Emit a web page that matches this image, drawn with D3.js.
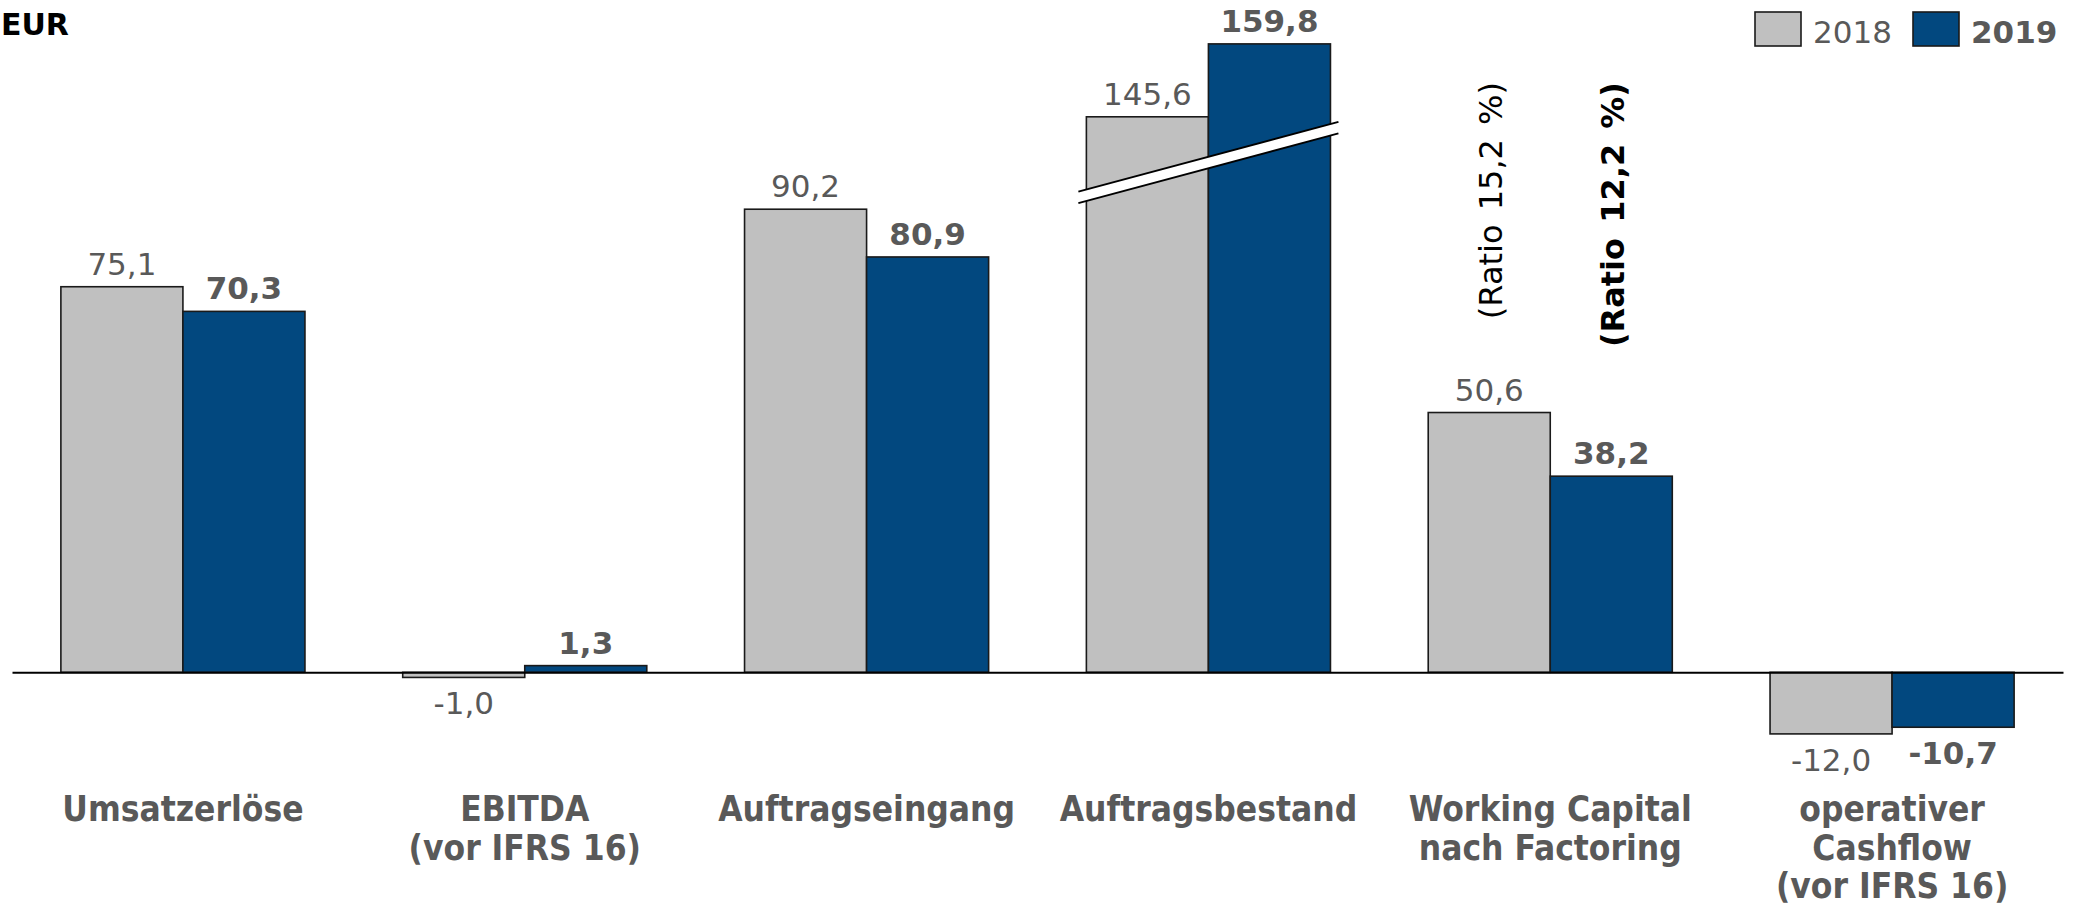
<!DOCTYPE html>
<html>
<head>
<meta charset="utf-8">
<script src="https://cdn.jsdelivr.net/npm/d3@7"></script>
<style>
  html, body { margin: 0; padding: 0; background: #fff; overflow: hidden; }
  svg { display: block; }
</style>
</head>
<body>
<svg width="2077" height="905"></svg>
<script>
// values in Mio. EUR
const categories = ["Umsatzerlöse", "EBITDA|(vor IFRS 16)", "Auftragseingang", "Auftragsbestand",
  "Working Capital|nach Factoring", "operativer|Cashflow|(vor IFRS 16)"];
const years = ["2018", "2019"];
const values2018 = [75.1, -1.0, 90.2, 145.6, 50.6, -12.0];
const values2019 = [70.3, 1.3, 80.9, 159.8, 38.2, -10.7];
const labels2018 = ["75,1", "-1,0", "90,2", "145,6", "50,6", "-12,0"];
const labels2019 = ["70,3", "1,3", "80,9", "159,8", "38,2", "-10,7"];
const ratioLabels = ["(Ratio 15,2 %)", "(Ratio 12,2 %)"];
const brokenCategory = "Auftragsbestand";
const brokenCut = 37.4; // part of the value hidden by the axis break

const svg = d3.select("svg"),
  baseY = 672.3,
  pxPerUnit = 5.134;

const colors = { "2018": "#c0c0c0", "2019": "#02487f" };
const textGray = "#595959";

const x0 = d3.scaleBand()
  .domain(categories)
  .range([12, 2063])
  .paddingInner(0.286)
  .paddingOuter(0.143);

const x1 = d3.scaleBand()
  .domain(years)
  .range([0, x0.bandwidth()]);

const y = d3.scaleLinear()
  .domain([0, 100])
  .range([baseY, baseY - 100 * pxPerUnit]);

const data = categories.map((c, i) => ({
  cat: c,
  bars: [
    { year: "2018", value: values2018[i], label: labels2018[i] },
    { year: "2019", value: values2019[i], label: labels2019[i] }
  ]
}));

function shown(d, cat) {
  return cat === brokenCategory ? d.value - brokenCut : d.value;
}

const groups = svg.append("g")
  .selectAll("g")
  .data(data)
  .enter().append("g")
    .attr("transform", d => "translate(" + x0(d.cat) + ",0)");

groups.selectAll("rect")
  .data(d => d.bars.map(b => Object.assign({ cat: d.cat }, b)))
  .enter().append("rect")
    .attr("x", d => x1(d.year))
    .attr("width", x1.bandwidth())
    .attr("y", d => y(Math.max(0, shown(d, d.cat))))
    .attr("height", d => Math.abs(y(shown(d, d.cat)) - y(0)))
    .attr("fill", d => colors[d.year])
    .attr("stroke", "#1a1a1a")
    .attr("stroke-width", 1.6);

groups.selectAll("text.val")
  .data(d => d.bars.map(b => Object.assign({ cat: d.cat }, b)))
  .enter().append("text")
    .attr("class", "val")
    .attr("x", d => x1(d.year) + x1.bandwidth() / 2)
    .attr("y", d => {
      const v = shown(d, d.cat);
      return v >= 0 ? y(v) - 12 : y(v) + 37;
    })
    .attr("text-anchor", "middle")
    .attr("font-family", "DejaVu Sans, Verdana, sans-serif")
    .attr("font-size", 31)
    .attr("font-weight", d => d.year === "2019" ? "bold" : "normal")
    .attr("fill", textGray)
    .text(d => d.label);

// axis break on Auftragsbestand
const bx0 = x0(brokenCategory) - 8,
  bx1 = x0(brokenCategory) + x0.bandwidth() + 8,
  breakMid = 99.3,
  slope = -0.268,
  gap = 11.5;
const bcx = (bx0 + bx1) / 2,
  bcy = y(breakMid);
const yAt = (x, off) => bcy + (x - bcx) * slope + off;

svg.append("path")
  .attr("d", "M" + bx0 + "," + yAt(bx0, -gap / 2) + "L" + bx1 + "," + yAt(bx1, -gap / 2) +
    "L" + bx1 + "," + yAt(bx1, gap / 2) + "L" + bx0 + "," + yAt(bx0, gap / 2) + "Z")
  .attr("fill", "#fff");

[-gap / 2, gap / 2].forEach(off => {
  svg.append("line")
    .attr("x1", bx0).attr("y1", yAt(bx0, off))
    .attr("x2", bx1).attr("y2", yAt(bx1, off))
    .attr("stroke", "#000")
    .attr("stroke-width", 2);
});

// ratio annotations over Working Capital
const wc = categories[4];
svg.selectAll("text.ratio")
  .data(ratioLabels)
  .enter().append("text")
    .attr("class", "ratio")
    .attr("transform", (d, i) => "translate(" + (x0(wc) + x1(years[i]) + x1.bandwidth() / 2 + 2) + ",82) rotate(-90)")
    .attr("dy", "0.35em")
    .attr("text-anchor", "end")
    .attr("font-family", "DejaVu Sans, Verdana, sans-serif")
    .attr("font-size", 32)
    .attr("word-spacing", 4)
    .attr("font-weight", (d, i) => i === 1 ? "bold" : "normal")
    .attr("fill", "#000")
    .text(d => d);

// baseline + category labels
const axis = svg.append("g")
  .attr("transform", "translate(0," + baseY + ")")
  .call(d3.axisBottom(x0).tickSize(0).tickSizeOuter(0));

axis.select(".domain")
  .attr("stroke", "#000")
  .attr("stroke-width", 2);

axis.selectAll(".tick text")
  .attr("font-family", "DejaVu Sans Condensed, Arial Narrow, sans-serif")
  .attr("font-size", 35)
  .attr("font-weight", "bold")
  .attr("fill", textGray)
  .attr("dy", null)
  .attr("y", null)
  .each(function(d) {
    const t = d3.select(this).text("");
    d.split("|").forEach((line, i) => {
      t.append("tspan")
        .attr("x", 0)
        .attr("y", 149 + i * 38.5)
        .text(line);
    });
  });

// unit
svg.append("text")
  .attr("x", 1)
  .attr("y", 35)
  .attr("font-family", "DejaVu Sans, Verdana, sans-serif")
  .attr("font-size", 30)
  .attr("font-weight", "bold")
  .attr("fill", "#000")
  .text("EUR");

// legend
const legend = svg.append("g")
  .selectAll("g")
  .data(years)
  .enter().append("g")
    .attr("transform", (d, i) => "translate(" + (1755 + i * 158) + ",12)");

legend.append("rect")
  .attr("width", 46)
  .attr("height", 34)
  .attr("fill", d => colors[d])
  .attr("stroke", "#1a1a1a")
  .attr("stroke-width", 1.6);

legend.append("text")
  .attr("x", 58)
  .attr("y", 31)
  .attr("font-family", "DejaVu Sans, Verdana, sans-serif")
  .attr("font-size", 31)
  .attr("font-weight", d => d === "2019" ? "bold" : "normal")
  .attr("fill", textGray)
  .text(d => d);
</script>
</body>
</html>
